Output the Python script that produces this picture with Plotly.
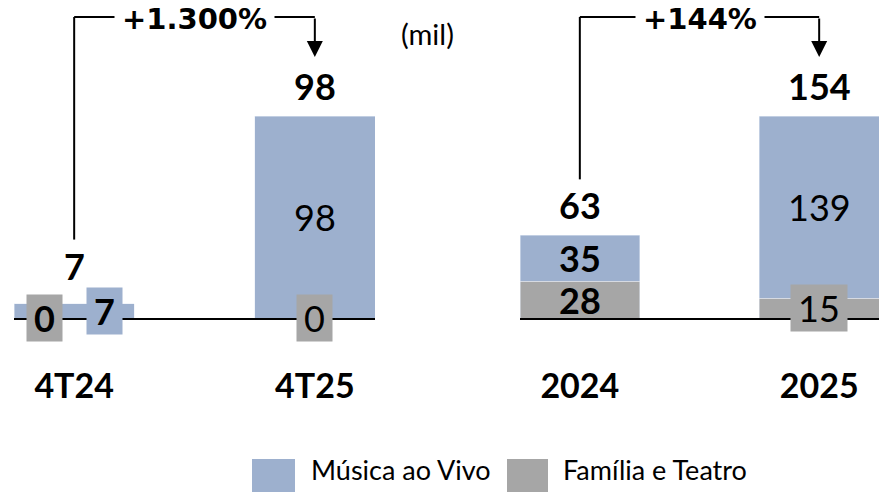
import plotly.graph_objects as go

BLUE = "#9DB0CE"
GRAY = "#A6A6A6"
FONT = "Lato"

# painel trimestral
quarters = ["4T24", "4T25"]
q_musica = [7, 98]
q_familia = [0, 0]
q_growth = "+1.300%"

# painel anual
years = ["2024", "2025"]
y_musica = [35, 139]
y_familia = [28, 15]
y_growth = "+144%"

series_names = ["Música ao Vivo", "Família e Teatro"]
unit_note = "(mil)"

W, H = 879, 492
Y0 = 1 - 318 / H   # linha de base
Y1 = 1 - 116 / H   # topo da maior barra
TOP = 1 - 17 / H   # linha do conector

panels = [
    dict(cats=quarters, musica=q_musica, familia=q_familia, growth=q_growth,
         xdom=[14 / W, 375 / W], xa="x", ya="y"),
    dict(cats=years, musica=y_musica, familia=y_familia, growth=y_growth,
         xdom=[520 / W, 1.0], xa="x2", ya="y2"),
]

fig = go.Figure()
ann = []
shapes = []

for i, p in enumerate(panels):
    totals = [m + f for m, f in zip(p["musica"], p["familia"])]
    ymax = max(totals)
    xs = list(range(len(p["cats"])))

    def ypaper(v):
        return Y0 + v / ymax * (Y1 - Y0)

    fig.add_trace(go.Bar(x=xs, y=p["familia"], marker_color=GRAY, width=0.5,
                         name=series_names[1], xaxis=p["xa"], yaxis=p["ya"],
                         cliponaxis=False, hoverinfo="skip"))
    fig.add_trace(go.Bar(x=xs, y=p["musica"], marker_color=BLUE, width=0.5,
                         name=series_names[0], xaxis=p["xa"], yaxis=p["ya"],
                         cliponaxis=False, hoverinfo="skip"))

    for j, (m, f, t) in enumerate(zip(p["musica"], p["familia"], totals)):
        small_m = m / ymax < 0.12
        small_f = f / ymax < 0.12
        both = small_m and small_f
        bold = j == 0
        # total
        ann.append(dict(x=j, y=t, xref=p["xa"], yref=p["ya"], text=f"<b>{t}</b>",
                        showarrow=False, yshift=38 if both else 30,
                        font=dict(size=36, color="black", family=FONT)))
        # segmentos
        for val, base, col, small, xs_ in [
            (f, 0, GRAY, small_f, -30 if both else 0),
            (m, f, BLUE, small_m, 30 if both else 0),
        ]:
            txt = f"<b>{val}</b>" if bold else str(val)
            a = dict(x=j, y=base + val / 2, xref=p["xa"], yref=p["ya"], text=txt,
                     showarrow=False, xshift=xs_,
                     font=dict(size=36, color="black", family=FONT))
            if small:
                a.update(bgcolor=col, width=len(str(val)) * 21 + 14, height=46,
                         borderpad=0)
            ann.append(a)

    # conector de crescimento
    both0 = p["musica"][0] / ymax < 0.12 and p["familia"][0] / ymax < 0.12
    bottom = ypaper(totals[0]) + (30 + (8 if both0 else 0) + 26) / H
    shapes.append(dict(type="line", xref=p["xa"], yref="paper", x0=0, x1=0,
                       y0=bottom, y1=TOP, line=dict(color="black", width=2)))
    shapes.append(dict(type="line", xref=p["xa"], yref="paper", x0=0, x1=1,
                       y0=TOP, y1=TOP, line=dict(color="black", width=2)))
    ann.append(dict(x=0.5, y=TOP, xref=p["xa"], yref="paper",
                    text=f"<b>{p['growth']}</b>", showarrow=False,
                    xanchor="center", yanchor="middle", yshift=-2,
                    bgcolor="white", borderpad=7,
                    font=dict(size=29, color="black", family="DejaVu Sans")))
    ann.append(dict(x=1, y=1 - 57 / H, xref=p["xa"], yref="paper", text="",
                    showarrow=True, ax=0, ay=-40, arrowhead=2, arrowsize=1.6,
                    arrowwidth=2, arrowcolor="black"))

    xaxis = dict(domain=p["xdom"], range=[-0.25, 1.25], anchor=p["ya"],
                 tickvals=xs, ticktext=[f"<b>{c}</b>" for c in p["cats"]],
                 tickfont=dict(size=34, color="black", family=FONT),
                 ticks="", ticklabelstandoff=37, showline=True, linecolor="black",
                 linewidth=2, showgrid=False, zeroline=False, fixedrange=True)
    yaxis = dict(domain=[Y0, Y1], range=[0, ymax], anchor=p["xa"], visible=False,
                 fixedrange=True)
    fig.update_layout({"xaxis" if i == 0 else "xaxis2": xaxis,
                       "yaxis" if i == 0 else "yaxis2": yaxis})

# unidade
ann.append(dict(x=427 / W, y=1 - 34 / H, xref="paper", yref="paper", text=unit_note,
                showarrow=False, xanchor="center", yanchor="middle",
                font=dict(size=29, color="black", family=FONT)))

# legenda manual
for name, col, x0, x1, xt in [
    (series_names[0], BLUE, 252, 295, 309),
    (series_names[1], GRAY, 507, 548, 561),
]:
    shapes.append(dict(type="rect", xref="paper", yref="paper", x0=x0 / W, x1=x1 / W,
                       y0=1 - 492 / H, y1=1 - 459 / H, fillcolor=col, line_width=0))
    ann.append(dict(x=xt / W, y=1 - 469 / H, xref="paper", yref="paper", text=name,
                    showarrow=False, xanchor="left", yanchor="middle",
                    font=dict(size=27, color="black", family=FONT)))

fig.update_layout(
    width=W, height=H, margin=dict(l=0, r=0, t=0, b=0),
    barmode="stack", showlegend=False,
    plot_bgcolor="white", paper_bgcolor="white",
    annotations=ann, shapes=shapes,
)

fig.write_html("out.html", config={"displayModeBar": False},
               post_script="document.body.style.margin='0';")
